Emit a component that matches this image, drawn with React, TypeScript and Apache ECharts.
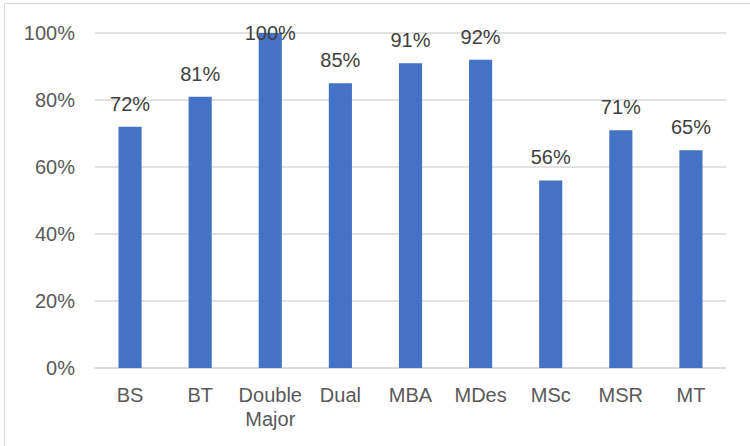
import React, { useEffect, useRef } from "react";
import * as echarts from "echarts";

const categories = ["BS", "BT", "Double\nMajor", "Dual", "MBA", "MDes", "MSc", "MSR", "MT"];
const values = [72, 81, 100, 85, 91, 92, 56, 71, 65];
const yTicks = { min: 0, max: 100, interval: 20 };

export default function App() {
  const ref = useRef<HTMLDivElement>(null);
  useEffect(() => {
    document.body.style.margin = "0";
    const chart = echarts.init(ref.current!, null, { renderer: "svg" });
    const font = "'Liberation Sans', Arial, sans-serif";
    chart.setOption({
      animation: false,
      backgroundColor: "#ffffff",
      textStyle: { fontFamily: font },
      grid: { left: 95, right: 24, top: 33, bottom: 78 },
      graphic: [
        {
          type: "rect",
          shape: { x: 4.5, y: 3.5, width: 800, height: 500 },
          style: { fill: "none", stroke: "#d9d9d9", lineWidth: 1 },
          silent: true,
        },
      ],
      xAxis: {
        type: "category",
        data: categories,
        axisLine: { lineStyle: { color: "#d9d9d9", width: 1.5 } },
        axisTick: { show: false },
        axisLabel: {
          color: "#595959",
          fontSize: 20,
          fontFamily: font,
          margin: 15,
          lineHeight: 24,
          interval: 0,
        },
      },
      yAxis: {
        type: "value",
        min: yTicks.min,
        max: yTicks.max,
        interval: yTicks.interval,
        axisLine: { show: false },
        axisTick: { show: false },
        splitLine: { lineStyle: { color: "#d9d9d9", width: 1.5 } },
        axisLabel: {
          color: "#595959",
          fontSize: 20,
          fontFamily: font,
          margin: 20,
          formatter: "{value}%",
        },
      },
      series: [
        {
          type: "bar",
          barWidth: "33%",
          itemStyle: { color: "#4472C4" },
          data: values.map((v) =>
            v >= 100 ? { value: v, label: { offset: [0, 23] } } : v
          ),
          label: {
            show: true,
            position: "top",
            distance: 13,
            color: "#404040",
            fontSize: 20,
            fontFamily: font,
            formatter: "{c}%",
          },
        },
      ],
    });
    return () => chart.dispose();
  }, []);
  return <div ref={ref} style={{ width: 750, height: 446 }} />;
}
